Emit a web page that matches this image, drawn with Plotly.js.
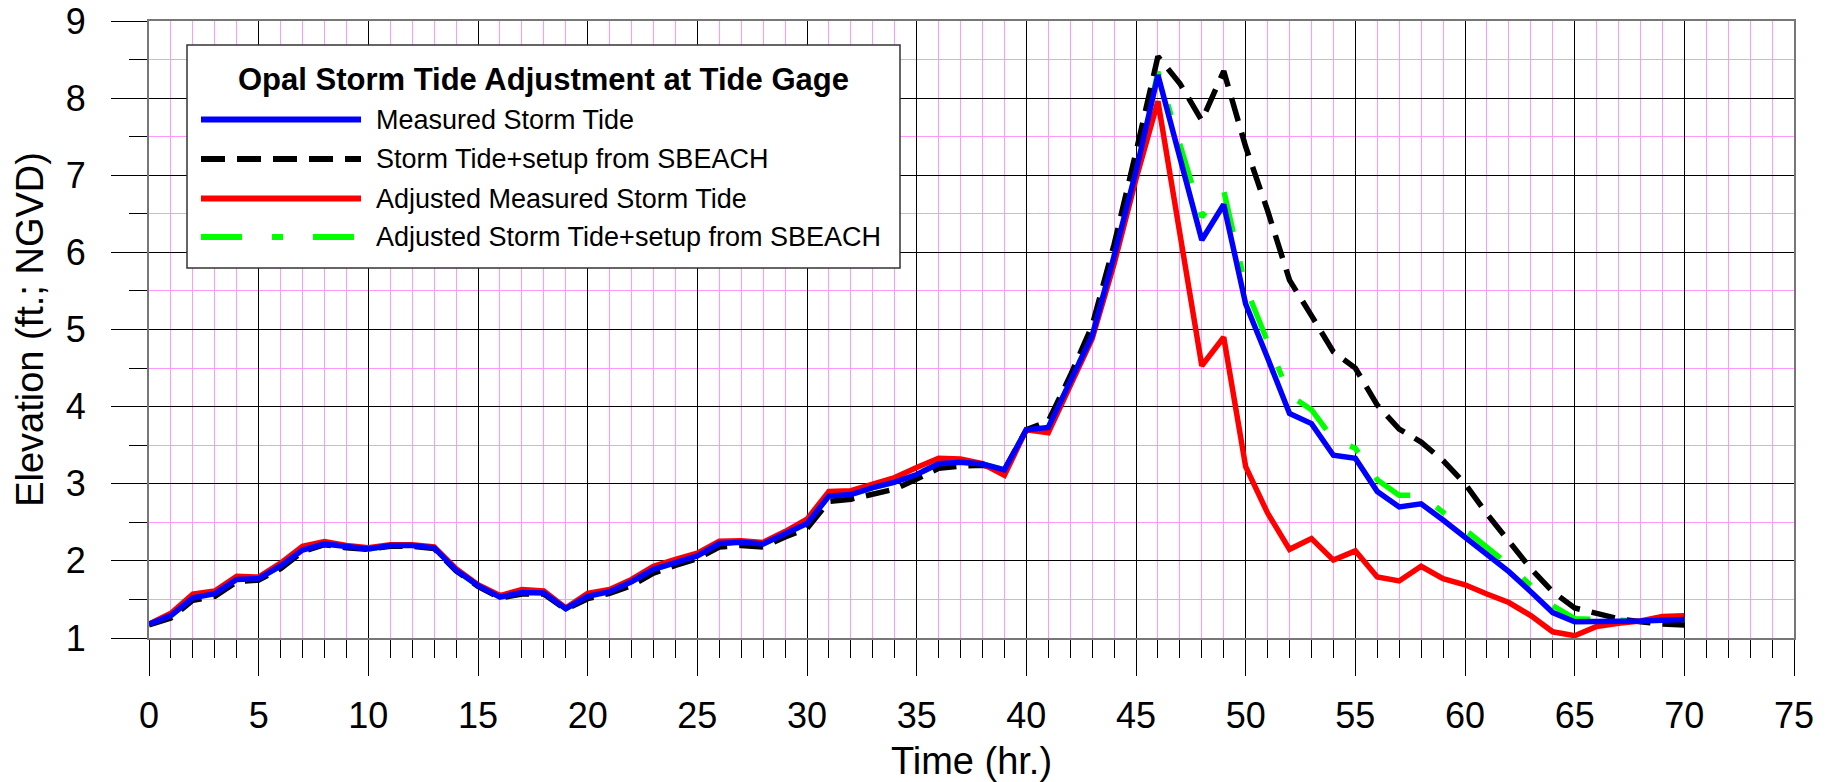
<!DOCTYPE html>
<html>
<head>
<meta charset="utf-8">
<script src="https://cdn.plot.ly/plotly-3.0.1.min.js"></script>
<style>
  html, body { margin: 0; padding: 0; background: #fff; }
  #chart { width: 1834px; height: 782px; }
</style>
</head>
<body>
<div id="chart"></div>
<script>
// ---- data ----
const hours = [];
for (let h = 0; h <= 70; h++) hours.push(h);

const measuredStormTide = [
  1.18, 1.29, 1.52, 1.575, 1.76, 1.77, 1.935, 2.14, 2.22, 2.18,
  2.155, 2.20, 2.20, 2.17, 1.88, 1.68, 1.53, 1.59, 1.585, 1.38,
  1.54, 1.60, 1.73, 1.89, 1.97, 2.065, 2.225, 2.24, 2.22, 2.35,
  2.485, 2.84, 2.86, 2.95, 3.02, 3.12, 3.26, 3.28, 3.255, 3.18,
  3.70, 3.73, 4.32, 4.92, 5.95, 7.05, 8.30, 7.24, 6.16, 6.62,
  5.33, 4.63, 3.91, 3.78, 3.37, 3.33, 2.90, 2.70, 2.74, 2.53,
  2.31, 2.10, 1.86, 1.60, 1.33, 1.21, 1.21, 1.22, 1.22, 1.23,
  1.24
];

const stormTideSetupSBEACH = [
  1.17, 1.26, 1.49, 1.54, 1.73, 1.75, 1.90, 2.12, 2.21, 2.17,
  2.15, 2.19, 2.19, 2.16, 1.87, 1.67, 1.52, 1.57, 1.57, 1.37,
  1.51, 1.58, 1.68, 1.84, 1.94, 2.03, 2.18, 2.20, 2.18, 2.31,
  2.42, 2.77, 2.80, 2.87, 2.93, 3.06, 3.20, 3.23, 3.24, 3.18,
  3.70, 3.81, 4.40, 5.05, 6.10, 7.30, 8.54, 8.19, 7.71, 8.35,
  7.37, 6.54, 5.64, 5.18, 4.71, 4.50, 4.02, 3.71, 3.54, 3.30,
  3.00, 2.61, 2.25, 1.90, 1.60, 1.39, 1.32, 1.25, 1.21, 1.18,
  1.17
];

const adjustedMeasuredStormTide = [
  1.18, 1.32, 1.57, 1.61, 1.80, 1.79, 1.97, 2.19, 2.25, 2.20,
  2.17, 2.21, 2.21, 2.18, 1.90, 1.69, 1.55, 1.63, 1.61, 1.39,
  1.58, 1.63, 1.76, 1.93, 2.02, 2.10, 2.255, 2.26, 2.24, 2.38,
  2.54, 2.90, 2.91, 3.00, 3.08, 3.21, 3.33, 3.32, 3.26, 3.11,
  3.70, 3.66, 4.27, 4.88, 5.85, 6.95, 7.96, 6.20, 4.53, 4.90,
  3.22, 2.62, 2.15, 2.29, 2.01, 2.13, 1.79, 1.74, 1.93, 1.77,
  1.69, 1.57, 1.46, 1.29, 1.08, 1.03, 1.15, 1.19, 1.22, 1.28,
  1.29
];

const adjustedStormTideSetupSBEACH = [
  1.18, 1.29, 1.52, 1.575, 1.76, 1.77, 1.935, 2.14, 2.22, 2.18,
  2.155, 2.20, 2.20, 2.17, 1.88, 1.68, 1.53, 1.59, 1.585, 1.38,
  1.54, 1.60, 1.73, 1.89, 1.97, 2.065, 2.225, 2.24, 2.22, 2.35,
  2.485, 2.84, 2.86, 2.95, 3.02, 3.12, 3.26, 3.28, 3.255, 3.18,
  3.70, 3.73, 4.32, 4.92, 5.95, 7.05, 8.34, 7.40, 6.46, 6.80,
  5.55, 4.84, 4.15, 3.96, 3.58, 3.46, 3.05, 2.85, 2.85, 2.63,
  2.40, 2.16, 1.95, 1.68, 1.42, 1.25, 1.24, 1.23, 1.22, 1.23,
  1.24
];

const seriesNames = [
  "Measured Storm Tide",
  "Storm Tide+setup from SBEACH",
  "Adjusted Measured Storm Tide",
  "Adjusted Storm Tide+setup from SBEACH"
];
const legendTitle = "Opal Storm Tide Adjustment at Tide Gage";
const xTitle = "Time (hr.)";
const yTitle = "Elevation (ft.; NGVD)";

// ---- styles ----
const FONT = "Liberation Sans, Arial, Helvetica, sans-serif";
const styles = [
  { color: "#0000ff", dash: "solid" },
  { color: "#000000", dash: "24px,12px" },
  { color: "#ff0000", dash: "solid" },
  { color: "#00ff00", dash: "41px,30px,11px,30px" }
];
const seriesValues = [measuredStormTide, stormTideSetupSBEACH, adjustedMeasuredStormTide, adjustedStormTideSetupSBEACH];
const LW = 5.5;

// draw order: green, black, red, blue (blue on top)
const drawOrder = [3, 1, 2, 0];
const traces = drawOrder.map(i => ({
  type: "scatter",
  mode: "lines",
  name: seriesNames[i],
  x: hours,
  y: seriesValues[i],
  line: { color: styles[i].color, width: LW, dash: styles[i].dash },
  showlegend: false,
  hoverinfo: "x+y+name"
}));

// ---- page geometry (pixels) ----
const W = 1834, H = 782;
const M = { l: 149, r: 40, t: 21, b: 144 };
const PW = W - M.l - M.r, PH = H - M.t - M.b;
const px = v => (v - M.l) / PW;           // pixel x -> paper
const py = v => (H - M.b - v) / PH;       // pixel y -> paper

// manual legend (long line samples as in the reference)
const box = { x0: 187, x1: 900, y0: 45, y1: 268 };
const rowsY = [119.5, 159, 198.5, 237];
const shapes = [{
  type: "rect", xref: "paper", yref: "paper", layer: "above",
  x0: px(box.x0), x1: px(box.x1), y0: py(box.y1), y1: py(box.y0),
  fillcolor: "#ffffff", line: { color: "#333333", width: 1.5 }
}];
const annotations = [{
  xref: "paper", yref: "paper", x: px((box.x0 + box.x1) / 2), y: py(80),
  xanchor: "center", yanchor: "middle", showarrow: false,
  text: "<b>" + legendTitle + "</b>",
  font: { family: FONT, size: 31, color: "#000" }
}];
seriesNames.forEach((nm, i) => {
  shapes.push({
    type: "line", xref: "paper", yref: "paper", layer: "above",
    x0: px(201), x1: px(361), y0: py(rowsY[i]), y1: py(rowsY[i]),
    line: { color: styles[i].color, width: 6, dash: styles[i].dash }
  });
  annotations.push({
    xref: "paper", yref: "paper", x: px(374), y: py(rowsY[i]),
    xanchor: "left", yanchor: "middle", showarrow: false,
    text: nm, font: { family: FONT, size: 27, color: "#000" }
  });
});

const layout = {
  width: W, height: H,
  margin: M,
  paper_bgcolor: "#ffffff",
  plot_bgcolor: "#ffffff",
  font: { family: FONT, color: "#000" },
  showlegend: false,
  xaxis: {
    range: [0, 75], tickmode: "linear", tick0: 0, dtick: 5,
    ticks: "outside", ticklen: 36, tickwidth: 1, tickcolor: "#000",
    showgrid: true, gridcolor: "#000000", gridwidth: 1,
    zeroline: false,
    showline: true, linecolor: "#777777", linewidth: 2, mirror: true,
    tickfont: { family: FONT, size: 36, color: "#000" },
    ticklabelstandoff: 9,
    minor: { dtick: 1, ticks: "outside", ticklen: 18, tickwidth: 1, tickcolor: "#000",
             showgrid: true, gridcolor: "#ff99ff", gridwidth: 1 },
    title: { text: xTitle, font: { family: FONT, size: 38, color: "#000" }, standoff: 14 }
  },
  yaxis: {
    range: [1, 9], tickmode: "linear", tick0: 1, dtick: 1,
    ticks: "outside", ticklen: 36, tickwidth: 1, tickcolor: "#000",
    showgrid: true, gridcolor: "#000000", gridwidth: 1,
    zeroline: false,
    showline: true, linecolor: "#777777", linewidth: 2, mirror: true,
    tickfont: { family: FONT, size: 36, color: "#000" },
    ticklabelstandoff: 18,
    minor: { dtick: 0.5, ticks: "outside", ticklen: 18, tickwidth: 1, tickcolor: "#000",
             showgrid: true, gridcolor: "#ff99ff", gridwidth: 1 },
    title: { text: yTitle, font: { family: FONT, size: 38, color: "#000" }, standoff: 10 }
  },
  shapes: shapes,
  annotations: annotations
};

Plotly.newPlot("chart", traces, layout, { displayModeBar: false, responsive: false });
</script>
</body>
</html>
